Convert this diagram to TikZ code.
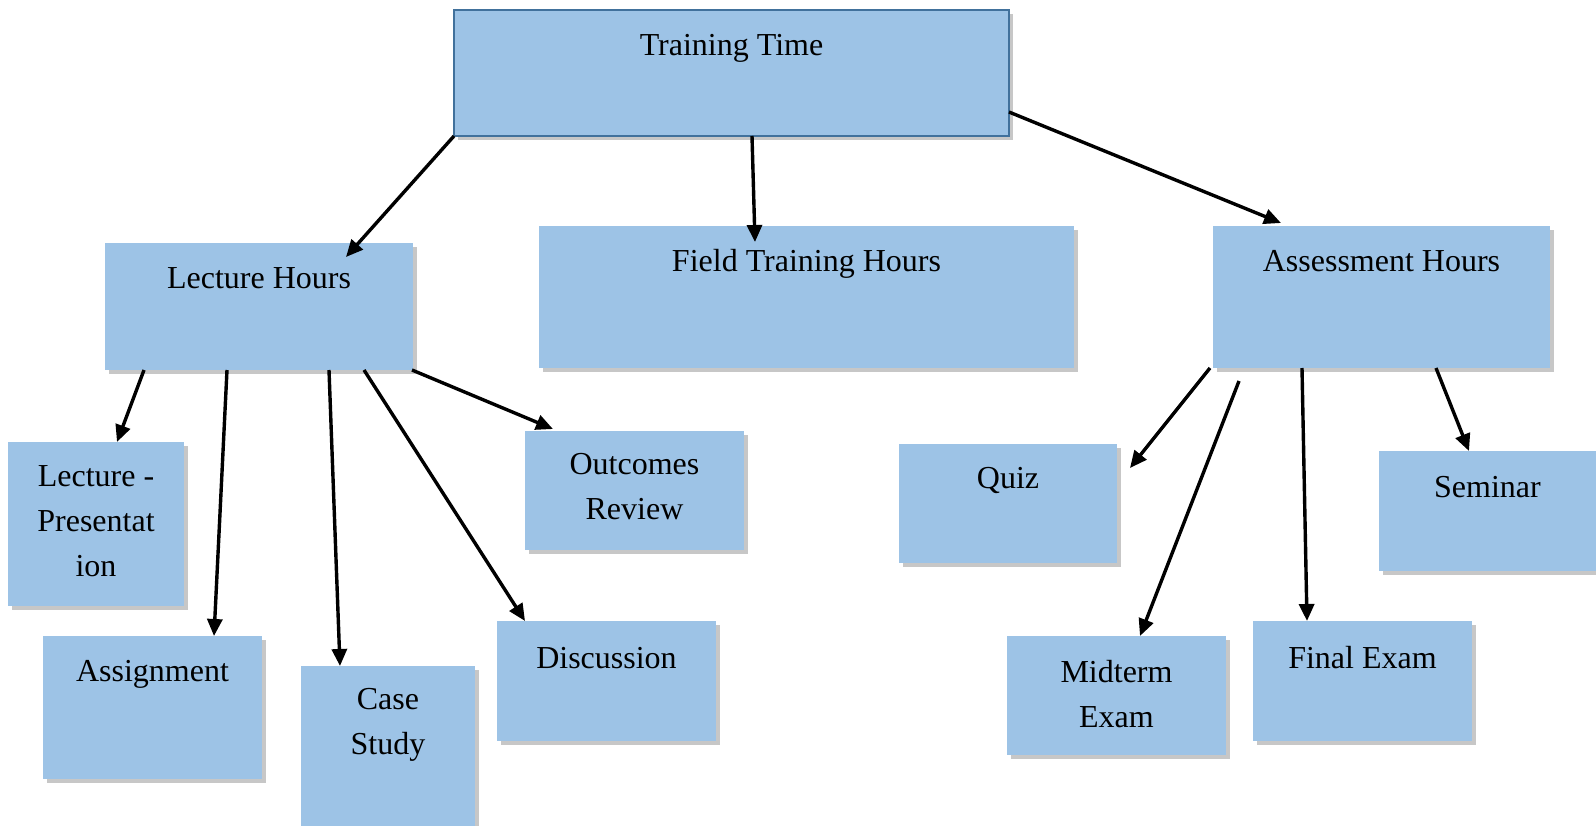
\documentclass[tikz,border=0pt]{standalone}
\usepackage{fontspec}
\setmainfont{Liberation Serif}
\usetikzlibrary{arrows.meta,shadows}
\definecolor{boxfill}{HTML}{9DC3E6}
\definecolor{boxedge}{HTML}{41719C}
\tikzset{
  box/.style={draw=none, fill=boxfill, anchor=north west, inner sep=0pt, outer sep=0pt,
    drop shadow={shadow xshift=4pt, shadow yshift=-4pt, fill=black, opacity=0.22}},
  lbl/.style={font=\fontsize{32}{45}\selectfont, align=center, inner sep=0pt, anchor=center},
  arr/.style={line width=3.4pt, -{Triangle[length=17pt,width=15pt]}}
}
\begin{document}
\begin{tikzpicture}[x=1pt,y=-1pt]
\useasboundingbox (0,0) rectangle (1596,825);
% boxes
\node[box, draw=boxedge, line width=2pt, minimum width=555pt, minimum height=126pt] (tt) at (454,10) {};
\node[box, minimum width=308pt, minimum height=127pt] (lh) at (105,243) {};
\node[box, minimum width=535pt, minimum height=142pt] (fth) at (539,226) {};
\node[box, minimum width=337pt, minimum height=142pt] (ah) at (1213,226) {};
\node[box, minimum width=176pt, minimum height=164pt] (lp) at (8,442) {};
\node[box, minimum width=219pt, minimum height=143pt] (as) at (43,636) {};
\node[box, minimum width=174pt, minimum height=165pt] (cs) at (301,666) {};
\node[box, minimum width=219pt, minimum height=120pt] (di) at (497,621) {};
\node[box, minimum width=219pt, minimum height=119pt] (oc) at (525,431) {};
\node[box, minimum width=218pt, minimum height=119pt] (qz) at (899,444) {};
\node[box, minimum width=219pt, minimum height=119pt] (mt) at (1007,636) {};
\node[box, minimum width=219pt, minimum height=120pt] (fe) at (1253,621) {};
\node[box, minimum width=217pt, minimum height=120pt] (sm) at (1379,451) {};
% labels
\node[lbl] (ttt) at ([shift={(0,38)}]tt.north) {Training Time};
\node[lbl] (lht) at ([shift={(0,35)}]lh.north) {Lecture Hours};
\node[lbl] (ftht) at ([shift={(0,38)}]fth.north) {Field Training Hours};
\node[lbl] (aht) at ([shift={(0,35)}]ah.north) {Assessment Hours};
\node[lbl] (lpt) at ([shift={(0,79)}]lp.north) {Lecture -\\Presentat\\ion};
\node[lbl] (ast) at ([shift={(0,38)}]as.north) {Assignment};
\node[lbl] (cst) at ([shift={(0,59)}]cs.north) {Case\\Study};
\node[lbl] (dit) at ([shift={(0,37)}]di.north) {Discussion};
\node[lbl] (oct) at ([shift={(0,56)}]oc.north) {Outcomes\\Review};
\node[lbl] (qzt) at ([shift={(0,36)}]qz.north) {Quiz};
\node[lbl] (mtt) at ([shift={(0,58)}]mt.north) {Midterm\\Exam};
\node[lbl] (fet) at ([shift={(0,37)}]fe.north) {Final Exam};
\node[lbl] (smt) at ([shift={(0,36)}]sm.north) {Seminar};
% connectors
\draw[arr] (tt.south west) -- ([shift={(241,14)}]lh.north west);
\draw[arr] ([shift={(298,0)}]tt.south west) -- ([shift={(216,16)}]fth.north west);
\draw[arr] ([shift={(0,-24)}]tt.south east) -- ([shift={(68,-3)}]ah.north west);
\draw[arr] ([shift={(39,0)}]lh.south west) -- ([shift={(109,0)}]lp.north west);
\draw[arr] ([shift={(122,0)}]lh.south west) -- ([shift={(171,0)}]as.north west);
\draw[arr] ([shift={(224,0)}]lh.south west) -- ([shift={(39,0)}]cs.north west);
\draw[arr] ([shift={(259,0)}]lh.south west) -- ([shift={(28,0)}]di.north west);
\draw[arr] ([shift={(-1,0)}]lh.south east) -- ([shift={(28,-2)}]oc.north west);
\draw[arr] ([shift={(-3,0)}]ah.south west) -- ([shift={(13,24)}]qz.north east);
\draw[arr] ([shift={(26,13)}]ah.south west) -- ([shift={(133,0)}]mt.north west);
\draw[arr] ([shift={(89,0)}]ah.south west) -- ([shift={(54,0)}]fe.north west);
\draw[arr] ([shift={(223,0)}]ah.south west) -- ([shift={(90,0)}]sm.north west);
\end{tikzpicture}
\end{document}
